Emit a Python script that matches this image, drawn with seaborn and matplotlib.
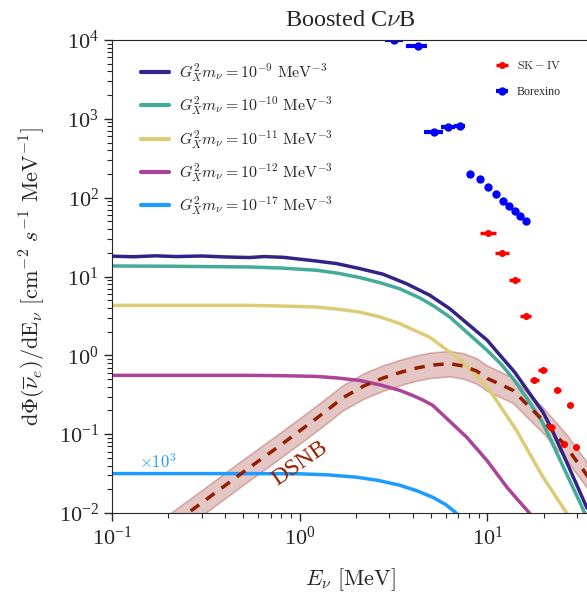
import matplotlib
matplotlib.use("Agg")
import matplotlib.pyplot as plt
import seaborn as sns
import numpy as np
import pandas as pd

# boosted CvB curves (E in MeV, flux in cm^-2 s^-1 MeV^-1)
E_m9 = [0.1, 0.13, 0.17, 0.22, 0.3, 0.4, 0.54, 0.65, 0.82, 1.0, 1.23, 1.57, 2.09,
        2.78, 3.71, 4.94, 6.31, 8.07, 10.0, 11.7, 14.0, 16.5, 19.8, 21.9, 26.5, 30, 34]
F_m9 = [18.1, 17.8, 18.3, 17.9, 18.2, 17.7, 17.4, 17.9, 17.5, 16.6, 15.7, 14.6, 12.6,
        10.7, 8.1, 5.78, 3.9, 2.38, 1.55, 1.0, 0.61, 0.35, 0.19, 0.12, 0.044, 0.0226,
        0.0115]

E_m10 = [0.1, 0.2, 0.54, 0.8, 1.23, 1.6, 2.09, 2.7, 3.41, 4.4, 5.2, 6.31, 8.0, 9.96,
         11.8, 13.7, 16.5, 19.8, 23, 26.5, 30, 33.5]
F_m10 = [13.6, 13.5, 13.2, 12.8, 12.0, 11.0, 9.7, 8.3, 7.0, 5.3, 4.2, 3.06, 1.85, 1.16,
         0.78, 0.51, 0.27, 0.137, 0.064, 0.031, 0.0165, 0.0093]

E_m11 = [0.1, 0.3, 0.54, 0.8, 1.23, 1.6, 2.09, 2.7, 3.41, 4.1, 4.9, 5.5, 6.31, 7.6,
         8.8, 10.3, 12.0, 14.3, 16.5, 19.8, 23, 26.6]
F_m11 = [4.3, 4.3, 4.3, 4.22, 4.1, 3.85, 3.54, 3.05, 2.53, 2.07, 1.71, 1.40, 1.1, 0.78,
         0.54, 0.36, 0.209, 0.112, 0.061, 0.0286, 0.0166, 0.0098]

E_m12 = [0.1, 0.3, 0.54, 0.8, 1.23, 1.6, 2.09, 2.7, 3.41, 4.0, 4.55, 5.12, 6.0, 6.9,
         7.76, 8.8, 9.95, 11.3, 12.7, 14.5, 16.9]
F_m12 = [0.557, 0.557, 0.557, 0.552, 0.54, 0.515, 0.48, 0.42, 0.36, 0.31, 0.27, 0.232,
         0.163, 0.119, 0.0917, 0.065, 0.0464, 0.031, 0.0213, 0.0148, 0.0098]

E_m17 = [0.1, 0.3, 0.54, 1.0, 1.4, 2.0, 2.6, 3.41, 4.2, 5.1, 6.0, 6.9]
F_m17 = [0.0316, 0.0316, 0.0316, 0.0314, 0.0305, 0.0285, 0.026, 0.0225, 0.0192, 0.0159,
         0.0128, 0.0098]

labels = [r'$G_X^2 m_\nu = 10^{-9}\ \mathrm{MeV}^{-3}$',
          r'$G_X^2 m_\nu = 10^{-10}\ \mathrm{MeV}^{-3}$',
          r'$G_X^2 m_\nu = 10^{-11}\ \mathrm{MeV}^{-3}$',
          r'$G_X^2 m_\nu = 10^{-12}\ \mathrm{MeV}^{-3}$',
          r'$G_X^2 m_\nu = 10^{-17}\ \mathrm{MeV}^{-3}$']
colors = ['#332288', '#44AA99', '#DDCC77', '#AA4499', '#1E9BFF']

# DSNB flux and its band
E_dsnb = [0.18, 0.2, 0.3, 0.5, 0.8, 1.2, 1.45, 1.7, 2.2, 2.78, 3.5, 4.19, 5.0, 6.31,
          7.5, 8.8, 10, 11.8, 13.7, 16.5, 19.8, 23, 26.5, 30, 32.5, 35]
dsnb = [0.0055, 0.0066, 0.0134, 0.033, 0.074, 0.152, 0.215, 0.29, 0.41, 0.515, 0.615,
        0.69, 0.75, 0.784, 0.73, 0.63, 0.51, 0.425, 0.36, 0.23, 0.15, 0.10, 0.068,
        0.045, 0.035, 0.027]
dsnb_lo = [v / 1.45 for v in dsnb]
dsnb_hi = [v * 1.45 for v in dsnb]

# Borexino data
E_bx = [3.2, 4.25, 5.2, 6.2, 7.13, 8.07, 9.1, 10.1, 11.1, 12.1, 13.1, 14.0, 15.0, 16.0]
F_bx = [1.0e4, 8.4e3, 675, 790, 810, 198, 170, 137, 110, 92, 78, 67, 58.5, 51]
Exerr_bx = [0.35, 0.55, 0.6, 0.55, 0.5, 0.3, 0.3, 0.3, 0.3, 0.3, 0.3, 0.3, 0.3, 0.3]

# SK-IV data
E_sk = [10.1, 12.0, 14.0, 16.0, 17.8, 19.7, 21.9, 23.6, 25.7, 27.5, 29.8]
F_sk = [36, 19.8, 9.1, 3.2, 0.49, 0.66, 0.122, 0.36, 0.074, 0.232, 0.068]
Exerr_sk = [1.0, 1.0, 1.0, 1.0, 1.0, 1.0, 1.0, 1.0, 1.0, 1.0, 1.0]

yticks = [1e-2, 1e-1, 1e0, 1e1, 1e2, 1e3, 1e4]
xticks = [1e-1, 1e0, 1e1]

sns.set_style("ticks")
plt.rcParams['font.family'] = ['Liberation Serif', 'DejaVu Serif']
plt.rcParams['mathtext.fontset'] = 'cm'

fig = plt.figure(figsize=(5.87, 5.92), dpi=100)
ax = fig.add_axes([112/587, 1-513/592, 476/587, 473/592])

curves = [(E_m9, F_m9), (E_m10, F_m10), (E_m11, F_m11), (E_m12, F_m12), (E_m17, F_m17)]
for (ex, fx), lab, c in zip(curves, labels, colors):
    sns.lineplot(x=ex, y=fx, ax=ax, color=c, lw=2.5, label=lab)

ax.fill_between(E_dsnb, dsnb_lo, dsnb_hi, color='#b4605a', alpha=0.35, lw=1.2,
                edgecolor='#a0403a')
sns.lineplot(x=E_dsnb, y=dsnb, ax=ax, color='#931d00', lw=2.5, ls=(0, (3, 2.5)))

ax.set_xscale('log')
ax.set_yscale('log')
ax.set_xticks(xticks)
ax.set_yticks(yticks)
ax.set_xlim(0.1, 34.4)
ax.set_ylim(1e-2, 1e4)

h1, l1 = ax.get_legend_handles_labels()
leg1 = ax.legend(h1[:5], l1[:5], loc='upper left', frameon=False, fontsize=11.5,
                 labelspacing=0.68, handlelength=1.8, handletextpad=0.6,
                 bbox_to_anchor=(0.03, 0.985))
for ln in leg1.get_lines():
    ln.set_linewidth(3)

sk = ax.errorbar(E_sk, F_sk, xerr=Exerr_sk, fmt='o', color='red', ms=4, elinewidth=2.5,
                 capsize=0)
bx = ax.errorbar(E_bx, F_bx, xerr=Exerr_bx, fmt='o', color='blue', ms=5, elinewidth=3,
                 capsize=0)
leg2 = ax.legend([sk, bx], [r'$\mathrm{SK-IV}$', 'Borexino'], loc='upper right',
                 frameon=False, fontsize=8.5, labelspacing=1.2, handlelength=1.5,
                 handletextpad=0.5, bbox_to_anchor=(0.965, 0.98))
ax.add_artist(leg1)

ax.text(0.14, 0.037, r'$\times 10^3$', color='#1E9BFF', fontsize=12)
ax.text(1.0, 0.042, 'DSNB', color='#931d00', fontsize=17, rotation=35,
        ha='center', va='center')

ax.set_title(r'Boosted C$\nu$B', fontsize=17.5, pad=10)
ax.set_xlabel(r'$E_\nu\ [\mathrm{MeV}]$', fontsize=16, labelpad=12)
ax.set_ylabel(r'$\mathrm{d}\Phi(\overline{\nu}_e)/\mathrm{dE}_\nu\ [\mathrm{cm}^{-2}\ s^{-1}\ \mathrm{MeV}^{-1}]$',
              fontsize=16, labelpad=8)
ax.tick_params(axis='both', which='major', labelsize=16, length=6, width=1)
ax.tick_params(axis='both', which='minor', length=3.5, width=0.8)
ax.spines['right'].set_visible(False)

fig.savefig('out.png', dpi=100)
